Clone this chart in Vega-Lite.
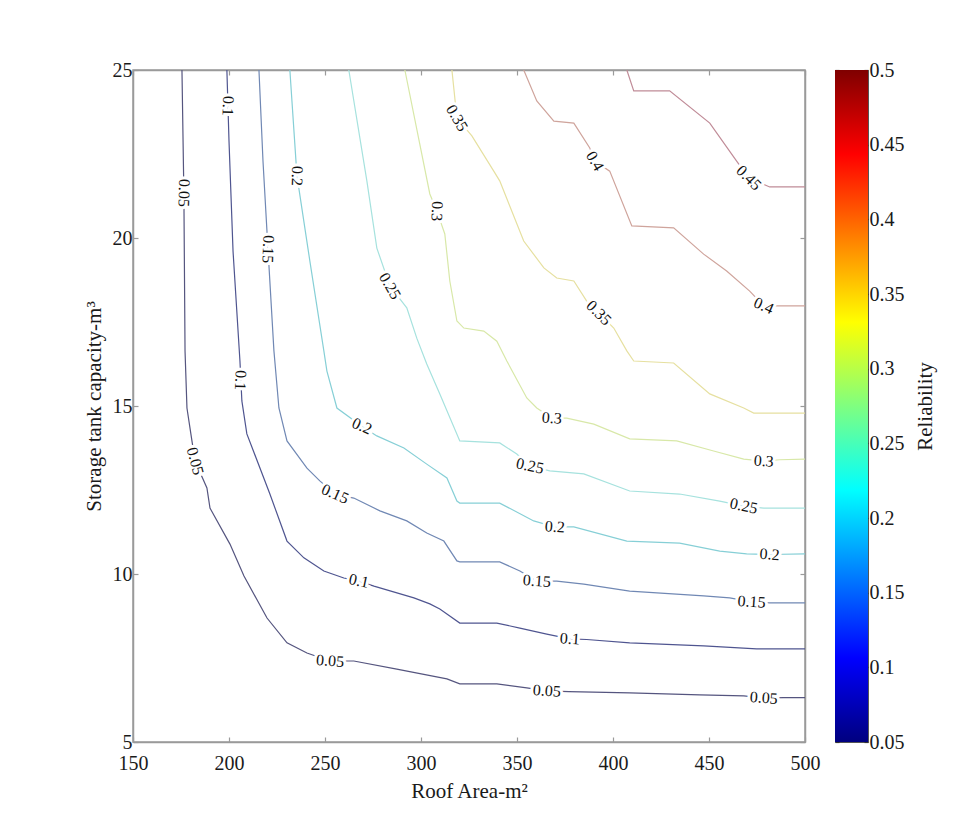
{
  "$schema": "https://vega.github.io/schema/vega-lite/v6.json",
  "background": "white",
  "padding": {"left": 82, "top": 59, "right": 5, "bottom": 5},
  "config": {
    "font": "Liberation Serif",
    "view": {"stroke": "#9a9a9a", "strokeWidth": 1.5},
    "axis": {
      "labelFont": "Liberation Serif", "titleFont": "Liberation Serif",
      "labelFontSize": 20, "titleFontSize": 21, "labelColor": "#1a1a1a", "titleColor": "#1a1a1a",
      "titleFontWeight": "normal", "grid": false,
      "domainColor": "#9a9a9a", "domainWidth": 1.5, "tickColor": "#9a9a9a", "tickWidth": 1.2
    },
    "text": {"font": "Liberation Serif", "fontSize": 16, "align": "center", "baseline": "middle"}
  },
  "datasets": {
    "lines": [
      {"L":0.05,"x":175.5,"y":25},{"L":0.05,"x":176.5,"y":21.34},{"L":0.05,"x":177.1,"y":16.64},{"L":0.05,"x":178.1,"y":14.94},{"L":0.05,"x":180.7,"y":13.96},{"L":0.05,"x":182.3,"y":13.36},{"L":0.05,"x":188.5,"y":12.56},{"L":0.05,"x":190.1,"y":11.96},{"L":0.05,"x":200.5,"y":10.89},{"L":0.05,"x":207.8,"y":9.94},{"L":0.05,"x":219.8,"y":8.69},{"L":0.05,"x":230.2,"y":7.95},{"L":0.05,"x":240.6,"y":7.65},{"L":0.05,"x":252.6,"y":7.41},{"L":0.05,"x":265.0,"y":7.41},{"L":0.05,"x":287.4,"y":7.17},{"L":0.05,"x":313.5,"y":6.88},{"L":0.05,"x":320.2,"y":6.73},{"L":0.05,"x":339.5,"y":6.73},{"L":0.05,"x":355.1,"y":6.61},{"L":0.05,"x":365.5,"y":6.52},{"L":0.05,"x":377.0,"y":6.50},{"L":0.05,"x":408.7,"y":6.46},{"L":0.05,"x":445.2,"y":6.40},{"L":0.05,"x":468.1,"y":6.37},{"L":0.05,"x":478.5,"y":6.31},{"L":0.05,"x":488.9,"y":6.32},{"L":0.05,"x":500,"y":6.32},
      {"L":0.1,"x":198.9,"y":25},{"L":0.1,"x":200.0,"y":22.89},{"L":0.1,"x":202.1,"y":19.61},{"L":0.1,"x":205.7,"y":16.34},{"L":0.1,"x":206.7,"y":15.15},{"L":0.1,"x":209.3,"y":14.17},{"L":0.1,"x":221.3,"y":12.38},{"L":0.1,"x":230.2,"y":10.98},{"L":0.1,"x":239.0,"y":10.48},{"L":0.1,"x":249.4,"y":10.09},{"L":0.1,"x":259.8,"y":9.88},{"L":0.1,"x":267.6,"y":9.79},{"L":0.1,"x":275.5,"y":9.64},{"L":0.1,"x":296.3,"y":9.29},{"L":0.1,"x":304.6,"y":9.11},{"L":0.1,"x":309.8,"y":8.96},{"L":0.1,"x":313.5,"y":8.81},{"L":0.1,"x":320.2,"y":8.54},{"L":0.1,"x":339.5,"y":8.54},{"L":0.1,"x":351.5,"y":8.39},{"L":0.1,"x":365.5,"y":8.21},{"L":0.1,"x":377.5,"y":8.07},{"L":0.1,"x":386.3,"y":8.05},{"L":0.1,"x":408.7,"y":7.95},{"L":0.1,"x":447.2,"y":7.86},{"L":0.1,"x":474.8,"y":7.77},{"L":0.1,"x":500,"y":7.77},
      {"L":0.15,"x":215.6,"y":25},{"L":0.15,"x":217.7,"y":22.29},{"L":0.15,"x":220.3,"y":19.67},{"L":0.15,"x":223.4,"y":16.64},{"L":0.15,"x":226.0,"y":14.94},{"L":0.15,"x":230.2,"y":13.96},{"L":0.15,"x":240.6,"y":13.15},{"L":0.15,"x":247.3,"y":12.77},{"L":0.15,"x":255.2,"y":12.38},{"L":0.15,"x":265.0,"y":12.26},{"L":0.15,"x":278.6,"y":11.88},{"L":0.15,"x":292.6,"y":11.58},{"L":0.15,"x":303.0,"y":11.22},{"L":0.15,"x":311.9,"y":10.98},{"L":0.15,"x":318.7,"y":10.39},{"L":0.15,"x":320.2,"y":10.36},{"L":0.15,"x":341.0,"y":10.36},{"L":0.15,"x":351.5,"y":10.09},{"L":0.15,"x":360.3,"y":9.79},{"L":0.15,"x":370.7,"y":9.79},{"L":0.15,"x":384.8,"y":9.70},{"L":0.15,"x":408.7,"y":9.49},{"L":0.15,"x":447.2,"y":9.35},{"L":0.15,"x":460.8,"y":9.29},{"L":0.15,"x":472.2,"y":9.17},{"L":0.15,"x":481.6,"y":9.14},{"L":0.15,"x":500,"y":9.14},
      {"L":0.2,"x":231.7,"y":25},{"L":0.2,"x":235.4,"y":21.85},{"L":0.2,"x":242.1,"y":19.32},{"L":0.2,"x":249.4,"y":16.64},{"L":0.2,"x":251.0,"y":16.04},{"L":0.2,"x":256.2,"y":14.94},{"L":0.2,"x":269.2,"y":14.40},{"L":0.2,"x":277.0,"y":14.11},{"L":0.2,"x":291.1,"y":13.75},{"L":0.2,"x":303.0,"y":13.27},{"L":0.2,"x":313.5,"y":12.86},{"L":0.2,"x":318.7,"y":12.17},{"L":0.2,"x":320.2,"y":12.11},{"L":0.2,"x":341.0,"y":12.11},{"L":0.2,"x":358.7,"y":11.58},{"L":0.2,"x":369.7,"y":11.40},{"L":0.2,"x":379.6,"y":11.40},{"L":0.2,"x":407.2,"y":10.98},{"L":0.2,"x":434.7,"y":10.92},{"L":0.2,"x":455.6,"y":10.68},{"L":0.2,"x":469.6,"y":10.60},{"L":0.2,"x":481.6,"y":10.58},{"L":0.2,"x":500,"y":10.60},
      {"L":0.25,"x":262.4,"y":25},{"L":0.25,"x":271.8,"y":21.70},{"L":0.25,"x":277.0,"y":19.70},{"L":0.25,"x":283.8,"y":18.57},{"L":0.25,"x":292.6,"y":17.92},{"L":0.25,"x":297.8,"y":17.02},{"L":0.25,"x":303.0,"y":16.25},{"L":0.25,"x":309.8,"y":15.36},{"L":0.25,"x":320.2,"y":13.96},{"L":0.25,"x":341.0,"y":13.90},{"L":0.25,"x":349.9,"y":13.57},{"L":0.25,"x":356.7,"y":13.21},{"L":0.25,"x":367.1,"y":13.07},{"L":0.25,"x":384.8,"y":12.98},{"L":0.25,"x":408.7,"y":12.47},{"L":0.25,"x":434.7,"y":12.38},{"L":0.25,"x":455.6,"y":12.17},{"L":0.25,"x":468.1,"y":12.02},{"L":0.25,"x":478.5,"y":11.96},{"L":0.25,"x":500,"y":11.96},
      {"L":0.3,"x":291.6,"y":25},{"L":0.3,"x":304.6,"y":21.31},{"L":0.3,"x":308.3,"y":20.80},{"L":0.3,"x":312.4,"y":20.12},{"L":0.3,"x":315.0,"y":18.72},{"L":0.3,"x":318.7,"y":17.53},{"L":0.3,"x":322.3,"y":17.32},{"L":0.3,"x":332.7,"y":17.23},{"L":0.3,"x":339.5,"y":16.93},{"L":0.3,"x":344.7,"y":16.34},{"L":0.3,"x":355.1,"y":15.24},{"L":0.3,"x":360.3,"y":14.94},{"L":0.3,"x":368.1,"y":14.64},{"L":0.3,"x":375.9,"y":14.64},{"L":0.3,"x":390.0,"y":14.46},{"L":0.3,"x":408.7,"y":14.02},{"L":0.3,"x":433.2,"y":13.96},{"L":0.3,"x":452.4,"y":13.66},{"L":0.3,"x":468.1,"y":13.42},{"L":0.3,"x":478.5,"y":13.36},{"L":0.3,"x":486.8,"y":13.40},{"L":0.3,"x":500,"y":13.42},
      {"L":0.35,"x":316.1,"y":25},{"L":0.35,"x":318.7,"y":23.57},{"L":0.35,"x":326.5,"y":23.04},{"L":0.35,"x":337.9,"y":21.99},{"L":0.35,"x":341.0,"y":21.70},{"L":0.35,"x":353.5,"y":19.91},{"L":0.35,"x":364.0,"y":19.11},{"L":0.35,"x":370.7,"y":18.81},{"L":0.35,"x":379.6,"y":18.72},{"L":0.35,"x":386.3,"y":18.12},{"L":0.35,"x":392.6,"y":17.77},{"L":0.35,"x":400.4,"y":17.32},{"L":0.35,"x":407.2,"y":16.64},{"L":0.35,"x":410.8,"y":16.34},{"L":0.35,"x":431.6,"y":16.28},{"L":0.35,"x":450.4,"y":15.36},{"L":0.35,"x":468.1,"y":14.94},{"L":0.35,"x":473.3,"y":14.79},{"L":0.35,"x":500,"y":14.79},
      {"L":0.4,"x":353.5,"y":25},{"L":0.4,"x":360.3,"y":24.08},{"L":0.4,"x":369.2,"y":23.48},{"L":0.4,"x":379.6,"y":23.42},{"L":0.4,"x":387.9,"y":22.68},{"L":0.4,"x":390.5,"y":22.29},{"L":0.4,"x":398.3,"y":21.99},{"L":0.4,"x":409.8,"y":20.36},{"L":0.4,"x":431.6,"y":20.30},{"L":0.4,"x":447.2,"y":19.52},{"L":0.4,"x":459.2,"y":19.02},{"L":0.4,"x":471.2,"y":18.42},{"L":0.4,"x":478.5,"y":17.98},{"L":0.4,"x":486.8,"y":17.98},{"L":0.4,"x":500,"y":17.98},
      {"L":0.45,"x":407.2,"y":25},{"L":0.45,"x":410.8,"y":24.38},{"L":0.45,"x":429.5,"y":24.38},{"L":0.45,"x":450.4,"y":23.42},{"L":0.45,"x":464.4,"y":22.29},{"L":0.45,"x":470.7,"y":21.79},{"L":0.45,"x":481.6,"y":21.52},{"L":0.45,"x":500,"y":21.52}
    ],
    "labels": [
      {"t":"0.05","x":176.5,"y":21.34,"d":"v"},
      {"t":"0.1","x":199.4,"y":23.93,"d":"v"},
      {"t":"0.15","x":220.3,"y":19.67,"d":"v"},
      {"t":"0.2","x":235.4,"y":21.85,"d":"v"},
      {"t":"0.3","x":308.3,"y":20.80,"d":"v"},
      {"t":"0.25","x":283.8,"y":18.57,"d":"s"},
      {"t":"0.35","x":318.7,"y":23.57,"d":"s"},
      {"t":"0.4","x":390.5,"y":22.29,"d":"s"},
      {"t":"0.45","x":470.7,"y":21.79,"d":"d"},
      {"t":"0.4","x":478.5,"y":17.98,"d":"g"},
      {"t":"0.35","x":392.6,"y":17.77,"d":"d"},
      {"t":"0.1","x":205.9,"y":15.77,"d":"v"},
      {"t":"0.05","x":182.3,"y":13.36,"d":"w"},
      {"t":"0.2","x":269.2,"y":14.40,"d":"g"},
      {"t":"0.15","x":255.2,"y":12.38,"d":"g"},
      {"t":"0.1","x":267.6,"y":9.79,"d":"h"},
      {"t":"0.05","x":252.6,"y":7.41,"d":"f"},
      {"t":"0.3","x":368.1,"y":14.64,"d":"f"},
      {"t":"0.25","x":356.7,"y":13.21,"d":"h"},
      {"t":"0.2","x":369.7,"y":11.40,"d":"f"},
      {"t":"0.15","x":360.3,"y":9.79,"d":"f"},
      {"t":"0.1","x":377.5,"y":8.07,"d":"f"},
      {"t":"0.05","x":365.5,"y":6.52,"d":"f"},
      {"t":"0.3","x":478.5,"y":13.36,"d":"f"},
      {"t":"0.25","x":468.1,"y":12.02,"d":"h"},
      {"t":"0.2","x":481.6,"y":10.58,"d":"f"},
      {"t":"0.15","x":472.2,"y":9.17,"d":"f"},
      {"t":"0.05","x":478.5,"y":6.31,"d":"f"}
    ],
    "bar": [{"lo":0.05,"hi":0.5,"a":0,"b":1}]
  },
  "spacing": 12,
  "hconcat": [
    {
      "width": 672,
      "height": 672,
      "layer": [
        {
          "data": {"name": "lines"},
          "mark": {"type": "line", "strokeWidth": 1.2},
          "encoding": {
            "x": {"field": "x", "type": "quantitative", "scale": {"domain": [150, 500], "nice": false, "zero": false},
                  "axis": {"orient": "bottom", "values": [150,200,250,300,350,400,450,500], "format": "d", "title": "Roof Area-m²", "labelFlush": false, "tickSize": -5, "labelPadding": 16, "titlePadding": 7}},
            "y": {"field": "y", "type": "quantitative", "scale": {"domain": [5, 25], "nice": false, "zero": false},
                  "axis": {"orient": "left", "values": [5,10,15,20,25], "format": "d", "title": "Storage tank capacity-m³", "tickSize": -5, "labelPadding": 6, "titlePadding": 8}},
            "color": {"field": "L", "type": "quantitative",
                      "scale": {"domain": [0.05,0.1,0.15,0.2,0.25,0.3,0.35,0.4,0.45], "range": ["#55557f","#4f5590","#7088b4","#86cfd6","#a6e2de","#d8e8a8","#e6e0a0","#cfa49c","#c08c98"]},
                      "legend": null},
            "detail": {"field": "L", "type": "nominal"}
          }
        },
        {
          "data": {"name": "labels"},
          "transform": [{"filter": {"field": "d", "equal": "f"}}],
          "mark": {"type": "text", "angle": 4, "fill": "white", "stroke": "white", "strokeWidth": 6},
          "encoding": {
            "x": {"field": "x", "type": "quantitative", "axis": {"orient": "top", "values": [150,200,250,300,350,400,450,500], "labels": false, "title": null, "tickSize": -5}},
            "y": {"field": "y", "type": "quantitative", "axis": {"orient": "right", "values": [5,10,15,20,25], "labels": false, "title": null, "tickSize": -5}},
            "text": {"field": "t", "type": "nominal"}
          }
        },
        {"data": {"name": "labels"}, "transform": [{"filter": {"field": "d", "equal": "h"}}], "mark": {"type": "text", "angle": 12, "fill": "white", "stroke": "white", "strokeWidth": 6},
         "encoding": {"x": {"field": "x", "type": "quantitative", "axis": null}, "y": {"field": "y", "type": "quantitative", "axis": null}, "text": {"field": "t", "type": "nominal"}}},
        {"data": {"name": "labels"}, "transform": [{"filter": {"field": "d", "equal": "g"}}], "mark": {"type": "text", "angle": 24, "fill": "white", "stroke": "white", "strokeWidth": 6},
         "encoding": {"x": {"field": "x", "type": "quantitative", "axis": null}, "y": {"field": "y", "type": "quantitative", "axis": null}, "text": {"field": "t", "type": "nominal"}}},
        {"data": {"name": "labels"}, "transform": [{"filter": {"field": "d", "equal": "d"}}], "mark": {"type": "text", "angle": 45, "fill": "white", "stroke": "white", "strokeWidth": 6},
         "encoding": {"x": {"field": "x", "type": "quantitative", "axis": null}, "y": {"field": "y", "type": "quantitative", "axis": null}, "text": {"field": "t", "type": "nominal"}}},
        {"data": {"name": "labels"}, "transform": [{"filter": {"field": "d", "equal": "s"}}], "mark": {"type": "text", "angle": 60, "fill": "white", "stroke": "white", "strokeWidth": 6},
         "encoding": {"x": {"field": "x", "type": "quantitative", "axis": null}, "y": {"field": "y", "type": "quantitative", "axis": null}, "text": {"field": "t", "type": "nominal"}}},
        {"data": {"name": "labels"}, "transform": [{"filter": {"field": "d", "equal": "w"}}], "mark": {"type": "text", "angle": 75, "fill": "white", "stroke": "white", "strokeWidth": 6},
         "encoding": {"x": {"field": "x", "type": "quantitative", "axis": null}, "y": {"field": "y", "type": "quantitative", "axis": null}, "text": {"field": "t", "type": "nominal"}}},
        {"data": {"name": "labels"}, "transform": [{"filter": {"field": "d", "equal": "v"}}], "mark": {"type": "text", "angle": 92, "fill": "white", "stroke": "white", "strokeWidth": 6},
         "encoding": {"x": {"field": "x", "type": "quantitative", "axis": null}, "y": {"field": "y", "type": "quantitative", "axis": null}, "text": {"field": "t", "type": "nominal"}}},
        {"data": {"name": "labels"}, "transform": [{"filter": {"field": "d", "equal": "f"}}], "mark": {"type": "text", "angle": 4, "fill": "#111111"},
         "encoding": {"x": {"field": "x", "type": "quantitative", "axis": null}, "y": {"field": "y", "type": "quantitative", "axis": null}, "text": {"field": "t", "type": "nominal"}}},
        {"data": {"name": "labels"}, "transform": [{"filter": {"field": "d", "equal": "h"}}], "mark": {"type": "text", "angle": 12, "fill": "#111111"},
         "encoding": {"x": {"field": "x", "type": "quantitative", "axis": null}, "y": {"field": "y", "type": "quantitative", "axis": null}, "text": {"field": "t", "type": "nominal"}}},
        {"data": {"name": "labels"}, "transform": [{"filter": {"field": "d", "equal": "g"}}], "mark": {"type": "text", "angle": 24, "fill": "#111111"},
         "encoding": {"x": {"field": "x", "type": "quantitative", "axis": null}, "y": {"field": "y", "type": "quantitative", "axis": null}, "text": {"field": "t", "type": "nominal"}}},
        {"data": {"name": "labels"}, "transform": [{"filter": {"field": "d", "equal": "d"}}], "mark": {"type": "text", "angle": 45, "fill": "#111111"},
         "encoding": {"x": {"field": "x", "type": "quantitative", "axis": null}, "y": {"field": "y", "type": "quantitative", "axis": null}, "text": {"field": "t", "type": "nominal"}}},
        {"data": {"name": "labels"}, "transform": [{"filter": {"field": "d", "equal": "s"}}], "mark": {"type": "text", "angle": 60, "fill": "#111111"},
         "encoding": {"x": {"field": "x", "type": "quantitative", "axis": null}, "y": {"field": "y", "type": "quantitative", "axis": null}, "text": {"field": "t", "type": "nominal"}}},
        {"data": {"name": "labels"}, "transform": [{"filter": {"field": "d", "equal": "w"}}], "mark": {"type": "text", "angle": 75, "fill": "#111111"},
         "encoding": {"x": {"field": "x", "type": "quantitative", "axis": null}, "y": {"field": "y", "type": "quantitative", "axis": null}, "text": {"field": "t", "type": "nominal"}}},
        {"data": {"name": "labels"}, "transform": [{"filter": {"field": "d", "equal": "v"}}], "mark": {"type": "text", "angle": 92, "fill": "#111111"},
         "encoding": {"x": {"field": "x", "type": "quantitative", "axis": null}, "y": {"field": "y", "type": "quantitative", "axis": null}, "text": {"field": "t", "type": "nominal"}}}
      ],
      "resolve": {"axis": {"x": "independent", "y": "independent"}}
    },
    {
      "width": 33,
      "height": 672,
      "data": {"name": "bar"},
      "view": {"stroke": "#555555", "strokeWidth": 1},
      "layer": [
        {
          "mark": {"type": "rect", "color": {"gradient": "linear", "x1": 0, "y1": 1, "x2": 0, "y2": 0,
            "stops": [{"offset": 0, "color": "#00007f"}, {"offset": 0.125, "color": "#0000ff"}, {"offset": 0.375, "color": "#00ffff"}, {"offset": 0.625, "color": "#ffff00"}, {"offset": 0.875, "color": "#ff0000"}, {"offset": 1, "color": "#7f0000"}]}},
          "encoding": {
            "x": {"field": "a", "type": "quantitative", "scale": {"domain": [0, 1], "nice": false}, "axis": null},
            "x2": {"field": "b"},
            "y": {"field": "lo", "type": "quantitative", "scale": {"domain": [0.05, 0.5], "nice": false, "zero": false},
                  "axis": {"orient": "right", "values": [0.05,0.1,0.15,0.2,0.25,0.3,0.35,0.4,0.45,0.5], "format": ".2~f", "title": "Reliability", "titleAngle": 270, "titleBaseline": "top", "titlePadding": 10, "tickSize": -4, "tickColor": "#333333", "domain": false, "labelPadding": 5}},
            "y2": {"field": "hi"}
          }
        },
        {
          "mark": {"type": "rect", "opacity": 0},
          "encoding": {
            "x": {"field": "a", "type": "quantitative", "axis": null},
            "x2": {"field": "b"},
            "y": {"field": "lo", "type": "quantitative", "axis": {"orient": "left", "values": [0.05,0.1,0.15,0.2,0.25,0.3,0.35,0.4,0.45,0.5], "labels": false, "title": null, "tickSize": -4, "tickColor": "#333333", "domain": false}},
            "y2": {"field": "hi"}
          }
        }
      ],
      "resolve": {"axis": {"y": "independent"}}
    }
  ]
}
